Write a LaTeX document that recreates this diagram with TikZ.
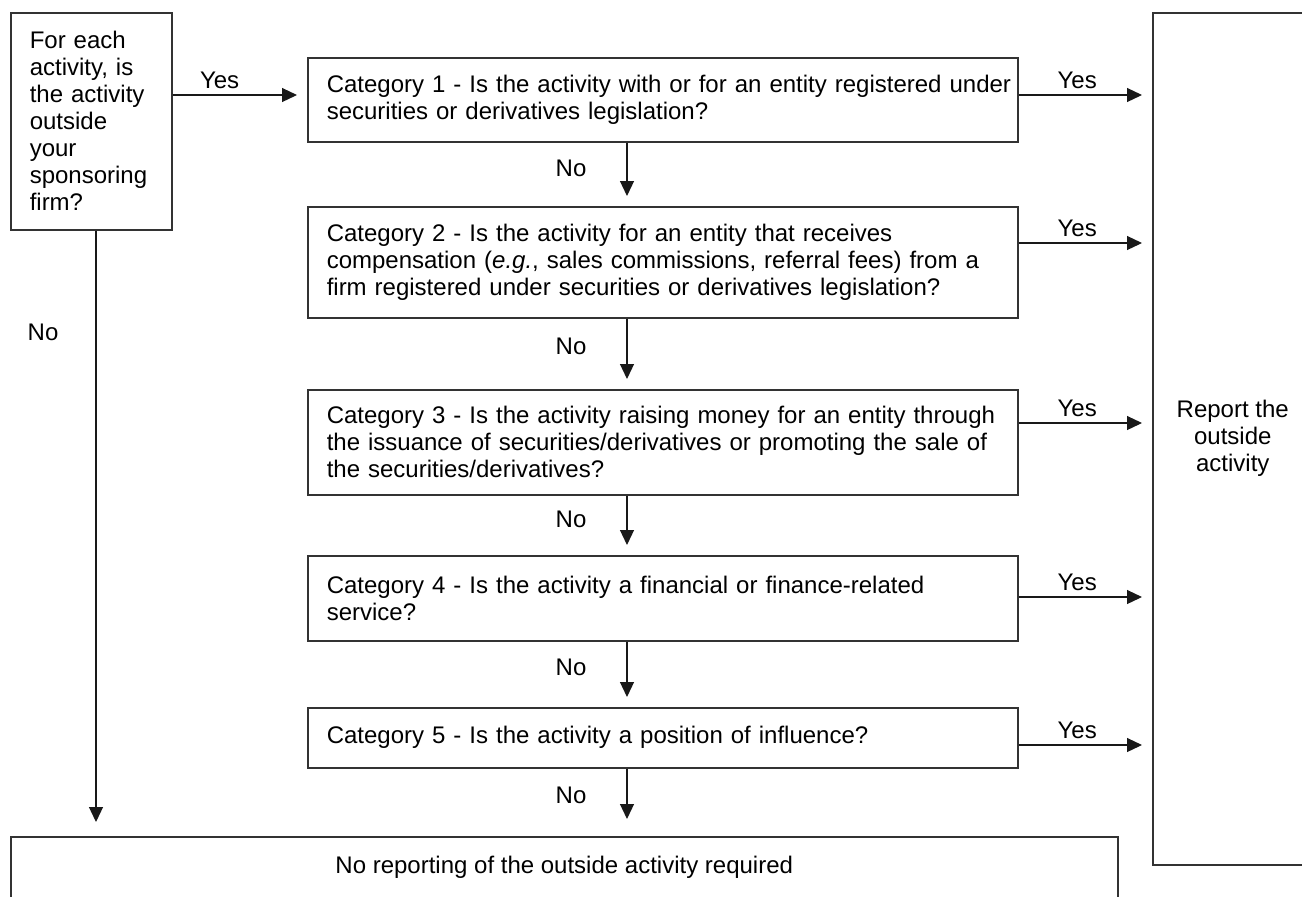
\documentclass[tikz,border=0pt]{standalone}
\usepackage{fontspec}
\setmainfont{Liberation Sans}
\usetikzlibrary{arrows.meta,positioning}
\tikzset{
  box/.style={draw=black!80, line width=0.75pt, rectangle, inner xsep=9.5pt, inner ysep=0pt, align=left, anchor=north west},
  arr/.style={draw=black!90, line width=0.6pt, shorten >=5pt, -{Triangle[length=7.5pt,width=7pt]}},
  lbl/.style={inner sep=0pt}
}
\begin{document}
\begin{tikzpicture}[x=0.5pt,y=-0.5pt,font=\fontsize{12}{13.5}\selectfont]
\useasboundingbox (0,0) rectangle (1302,896);
% draw question boxes
\node[box, text width=61.5pt, minimum height=108.5pt] (outside) at (10,12) {For each\\activity, is\\the activity\\outside\\your\\sponsoring\\firm?};
\node[box, text width=336pt, minimum height=42pt] (cat1) at (307,57) {\mbox{Category 1 - Is the activity with or for an entity registered under}\\securities or derivatives legislation?};
\node[box, text width=336pt, minimum height=55.5pt] (cat2) at (307,206) {Category 2 - Is the activity for an entity that receives\\compensation (\textit{e.g.}, sales commissions, referral fees) from a\\firm registered under securities or derivatives legislation?};
\node[box, text width=336pt, minimum height=52.5pt] (cat3) at (307,389) {Category 3 - Is the activity raising money for an entity through\\the issuance of securities/derivatives or promoting the sale of\\the securities/derivatives?};
\node[box, text width=336pt, minimum height=42.5pt] (cat4) at (307,555) {Category 4 - Is the activity a financial or finance-related\\service?};
\node[box, text width=336pt, minimum height=30pt] (cat5) at (307,707) {Category 5 - Is the activity a position of influence?};
% draw result boxes
\node[box, align=center, minimum width=80pt, minimum height=426pt] (report) at (1152,12) {Report the\\outside\\activity};
\node[box, align=center, minimum width=553.5pt, minimum height=31pt] (noreport) at (10,836) {No reporting of the outside activity required};
% draw yes arrows
\draw[arr] (outside.east |- 0,95) -- node[lbl, pos=0.35, above=3pt] {Yes} (cat1.west |- 0,95);
\foreach \c/\y in {cat1/95,cat2/243,cat3/423,cat4/597,cat5/745}{
  \draw[arr] (\c.east |- 0,\y) -- node[lbl, pos=0.44, above=3pt] {Yes} (report.west |- 0,\y);
}
% draw no arrows
\foreach \a/\b in {cat1/cat2,cat2/cat3,cat3/cat4,cat4/cat5}{
  \draw[arr] (\a.south -| 627,0) -- node[lbl, pos=0.4, left=20pt] {No} (\b.north -| 627,0);
}
\draw[arr, shorten >=8.5pt] (cat5.south -| 627,0) -- node[lbl, pos=0.4, left=20pt] {No} (noreport.north -| 627,0);
\draw[arr, shorten >=7pt] (outside.south -| 96,0) -- node[lbl, pos=0.168, left=18.5pt] {No} (noreport.north -| 96,0);
\end{tikzpicture}
\end{document}
